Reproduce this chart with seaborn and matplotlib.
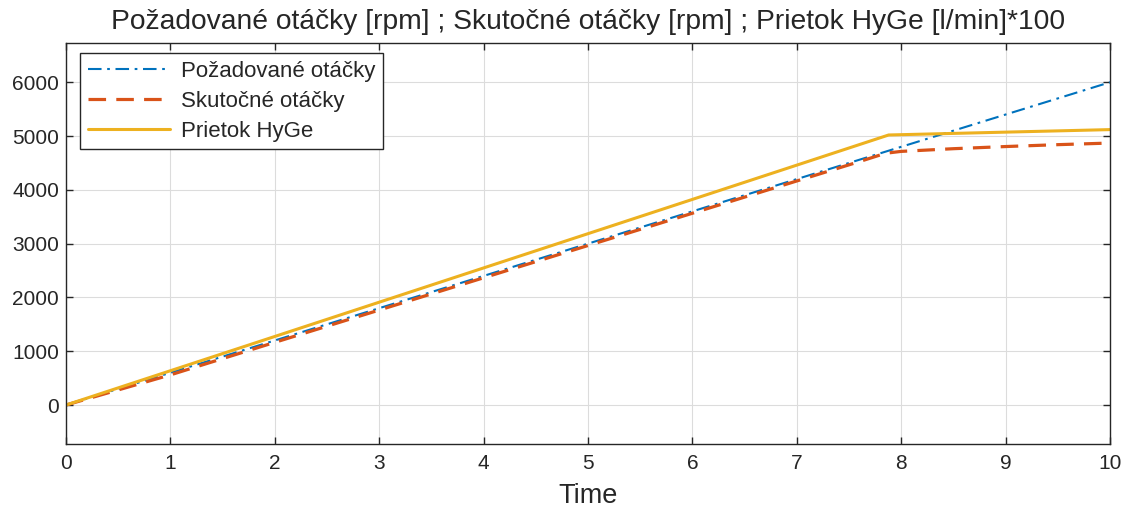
import matplotlib
matplotlib.use("Agg")
import matplotlib.pyplot as plt
import seaborn as sns
import numpy as np

# Data
t_req = [0, 10]
req = [0, 6000]

t_act = [0, 1, 2, 3, 4, 5, 6, 7, 7.6, 7.85, 8.0, 8.5, 9.0, 9.5, 10]
act = [0, 560, 1165, 1765, 2365, 2965, 3565, 4165, 4525, 4680, 4715, 4765, 4805, 4840, 4870]

t_flow = [0, 7.88, 10]
flow = [0, 5020, 5120]

labels = ["Požadované otáčky", "Skutočné otáčky", "Prietok HyGe"]
title = "Požadované otáčky [rpm] ; Skutočné otáčky [rpm] ; Prietok HyGe [l/min]*100"
xticks = list(range(0, 11))
yticks = [0, 1000, 2000, 3000, 4000, 5000, 6000]

sns.set_theme(style="white")
plt.rcParams['font.family'] = ['Liberation Sans', 'DejaVu Sans']

fig = plt.figure(figsize=(11.25, 5.09), dpi=100)
ax = fig.add_axes([66/1125, 1-444/509, (1110-66)/1125, (444-43)/509])

c_blue = "#0072BD"
c_red = "#D95319"
c_yel = "#EDB120"

sns.lineplot(x=t_req, y=req, ax=ax, color=c_blue, lw=1.5, label=labels[0])
ax.lines[-1].set_dashes([6.5, 2.7, 1.3, 2.7])
sns.lineplot(x=t_act, y=act, ax=ax, color=c_red, lw=2.3, label=labels[1])
ax.lines[-1].set_dashes([5.5, 3.2])
sns.lineplot(x=t_flow, y=flow, ax=ax, color=c_yel, lw=2.2, label=labels[2])

ax.set_xlim(0, 10)
ax.set_ylim(-725, 6730)
ax.set_xticks(xticks)
ax.set_yticks(yticks)
ax.set_xticklabels([str(v) for v in xticks])
ax.set_yticklabels([str(v) for v in yticks])
ax.grid(True, color="#dcdcdc", lw=0.8)
ax.set_axisbelow(True)
for s in ax.spines.values():
    s.set_color("#262626")
    s.set_linewidth(1.0)
    s.set_visible(True)
ax.tick_params(direction="in", length=5, width=1.0, colors="#262626",
               top=True, right=True, bottom=True, left=True,
               labelsize=15, labelcolor="#262626")
ax.tick_params(axis="x", pad=7.5)
ax.tick_params(axis="y", pad=5)
ax.set_xlabel("Time", fontsize=19.5, color="#262626", labelpad=7)
ax.set_ylabel("")
ax.set_title(title, fontsize=20.3, color="#262626", pad=10)

leg = ax.legend(loc="upper left", bbox_to_anchor=(0.0134, 0.975), fontsize=16,
                frameon=True, fancybox=False, edgecolor="#262626",
                borderpad=0.35, handlelength=3.7, labelspacing=0.4,
                handletextpad=0.5, borderaxespad=0.0)
leg.get_frame().set_linewidth(1.0)
leg.get_frame().set_facecolor("white")
leg.get_frame().set_alpha(1.0)

fig.savefig("out.png", dpi=100, facecolor="white")
